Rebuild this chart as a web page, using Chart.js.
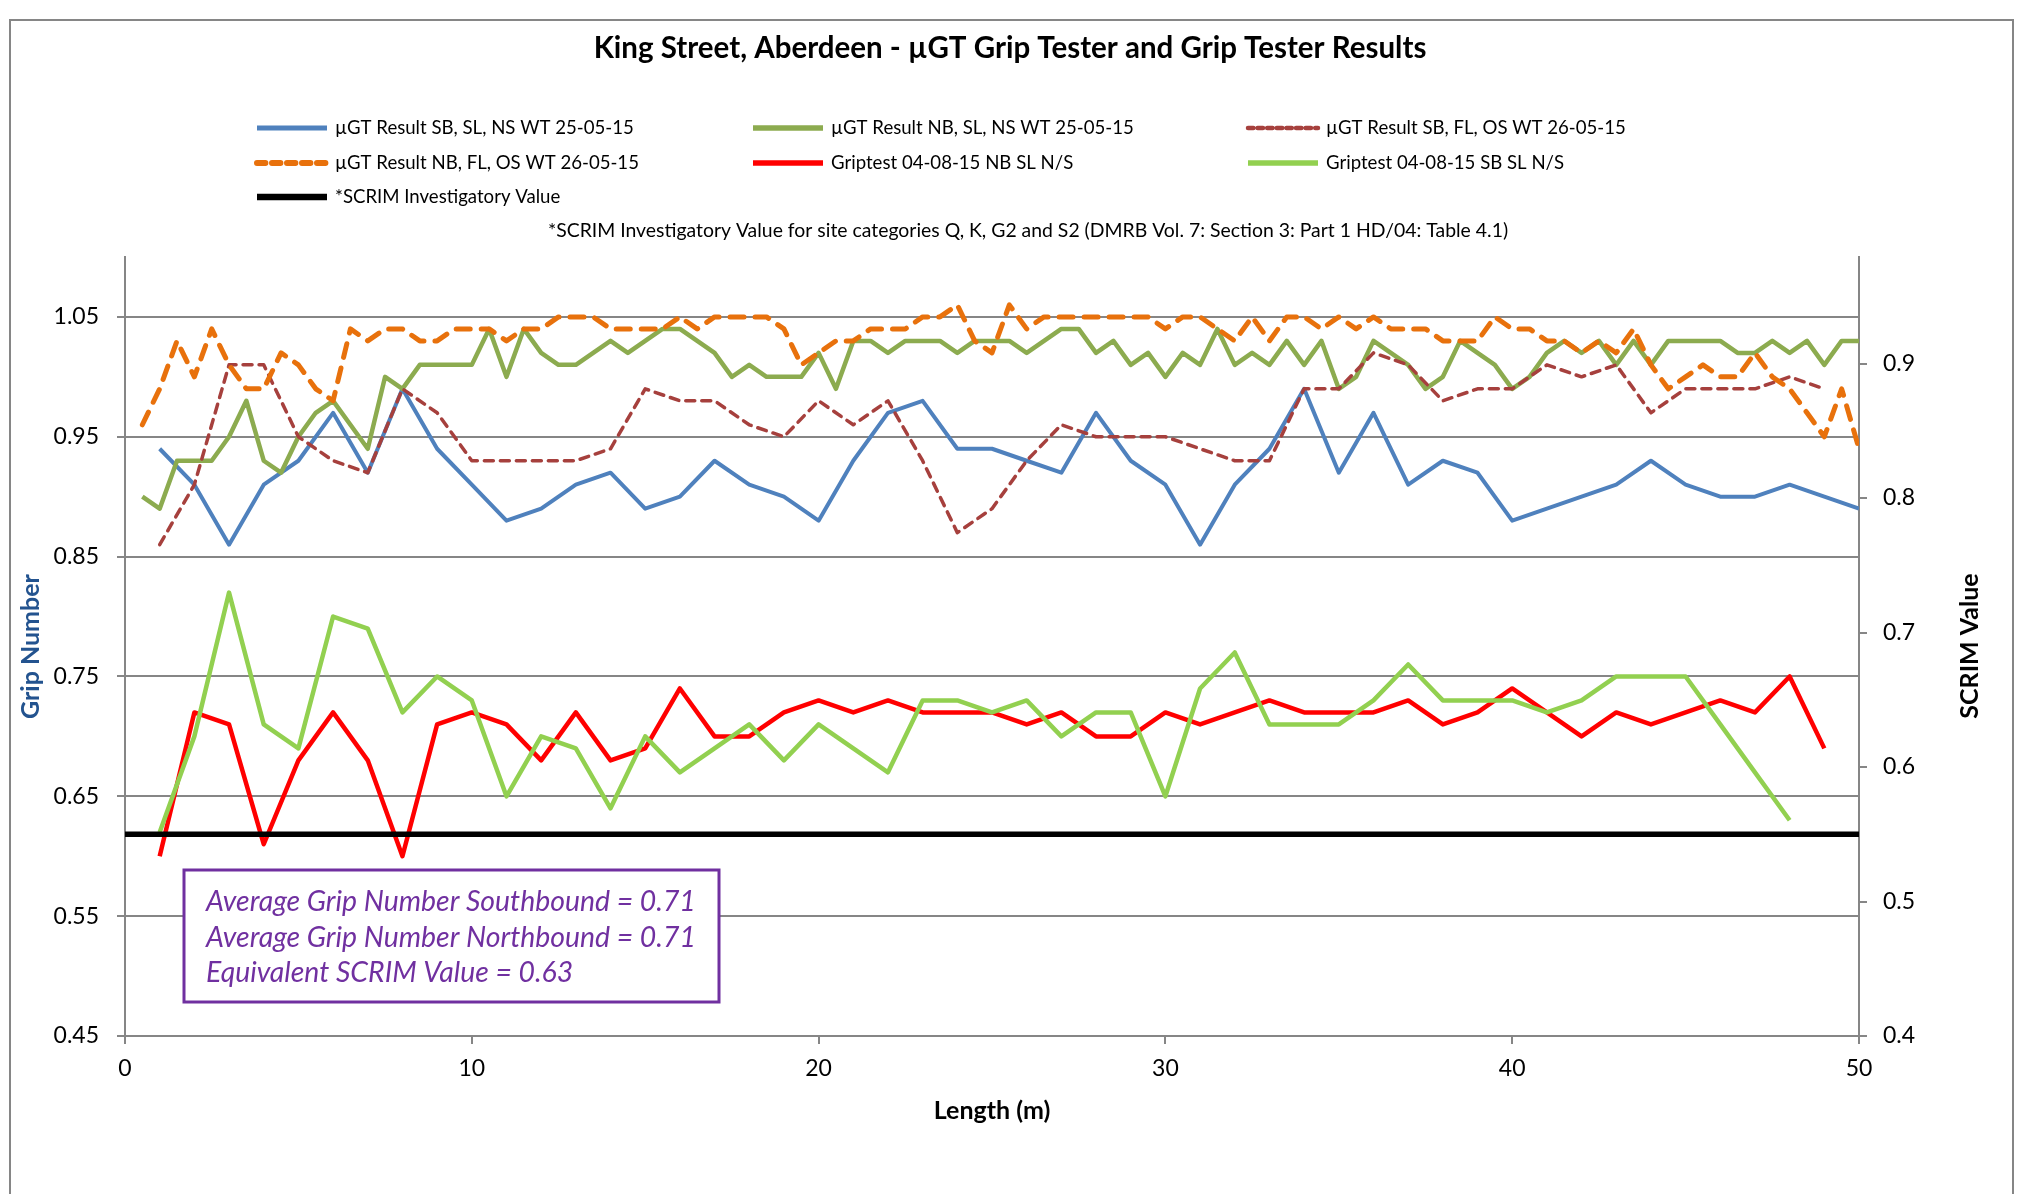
<!DOCTYPE html>
<html>
<head>
<meta charset="utf-8">
<title>King Street, Aberdeen - µGT Grip Tester and Grip Tester Results</title>
<script src="https://cdn.jsdelivr.net/npm/chart.js@4.4.1/dist/chart.umd.min.js"></script>
<style>
  html, body { margin: 0; padding: 0; background: #fff; }
  #wrap { position: relative; width: 2018px; height: 1194px; overflow: hidden; }
  #frame { position: absolute; left: 9px; top: 19px; width: 2001px; height: 1300px; border: 2px solid #868686; pointer-events: none; }
  canvas { position: absolute; left: 0; top: 0; }
</style>
</head>
<body>
<div id="wrap">
  <canvas id="gripChart" width="2018" height="1194"></canvas>
  <div id="frame"></div>
</div>
<script>
// ---------------- data ----------------
var wholeMetres = [1,2,3,4,5,6,7,8,9,10,11,12,13,14,15,16,17,18,19,20,21,22,23,24,25,
                   26,27,28,29,30,31,32,33,34,35,36,37,38,39,40,41,42,43,44,45,46,47,48,49,50];
var halfMetres = [0.5,1,1.5,2,2.5,3,3.5,4,4.5,5,5.5,6,6.5,7,7.5,8,8.5,9,9.5,10,
                  10.5,11,11.5,12,12.5,13,13.5,14,14.5,15,15.5,16,16.5,17,17.5,18,18.5,19,19.5,20,
                  20.5,21,21.5,22,22.5,23,23.5,24,24.5,25,25.5,26,26.5,27,27.5,28,28.5,29,29.5,30,
                  30.5,31,31.5,32,32.5,33,33.5,34,34.5,35,35.5,36,36.5,37,37.5,38,38.5,39,39.5,40,
                  40.5,41,41.5,42,42.5,43,43.5,44,44.5,45,45.5,46,46.5,47,47.5,48,48.5,49,49.5,50];

// µGT SB, SL, NS (1 m)
var ugtSbSl = [0.94,0.91,0.86,0.91,0.93,0.97,0.92,0.99,0.94,0.91,0.88,0.89,0.91,0.92,0.89,0.90,0.93,0.91,0.90,0.88,
               0.93,0.97,0.98,0.94,0.94,0.93,0.92,0.97,0.93,0.91,0.86,0.91,0.94,0.99,0.92,0.97,0.91,0.93,0.92,0.88,
               0.89,0.90,0.91,0.93,0.91,0.90,0.90,0.91,0.90,0.89];
// µGT NB, SL, NS (0.5 m)
var ugtNbSl = [0.90,0.89,0.93,0.93,0.93,0.95,0.98,0.93,0.92,0.95,0.97,0.98,0.96,0.94,1.00,0.99,1.01,1.01,1.01,1.01,
               1.04,1.00,1.04,1.02,1.01,1.01,1.02,1.03,1.02,1.03,1.04,1.04,1.03,1.02,1.00,1.01,1.00,1.00,1.00,1.02,
               0.99,1.03,1.03,1.02,1.03,1.03,1.03,1.02,1.03,1.03,1.03,1.02,1.03,1.04,1.04,1.02,1.03,1.01,1.02,1.00,
               1.02,1.01,1.04,1.01,1.02,1.01,1.03,1.01,1.03,0.99,1.00,1.03,1.02,1.01,0.99,1.00,1.03,1.02,1.01,0.99,
               1.00,1.02,1.03,1.02,1.03,1.01,1.03,1.01,1.03,1.03,1.03,1.03,1.02,1.02,1.03,1.02,1.03,1.01,1.03,1.03];
// µGT SB, FL, OS (1 m, to 49 m)
var ugtSbFl = [0.86,0.91,1.01,1.01,0.95,0.93,0.92,0.99,0.97,0.93,0.93,0.93,0.93,0.94,0.99,0.98,0.98,0.96,0.95,0.98,
               0.96,0.98,0.93,0.87,0.89,0.93,0.96,0.95,0.95,0.95,0.94,0.93,0.93,0.99,0.99,1.02,1.01,0.98,0.99,0.99,
               1.01,1.00,1.01,0.97,0.99,0.99,0.99,1.00,0.99];
// µGT NB, FL, OS (0.5 m)
var ugtNbFl = [0.96,0.99,1.03,1.00,1.04,1.01,0.99,0.99,1.02,1.01,0.99,0.98,1.04,1.03,1.04,1.04,1.03,1.03,1.04,1.04,
               1.04,1.03,1.04,1.04,1.05,1.05,1.05,1.04,1.04,1.04,1.04,1.05,1.04,1.05,1.05,1.05,1.05,1.04,1.01,1.02,
               1.03,1.03,1.04,1.04,1.04,1.05,1.05,1.06,1.03,1.02,1.06,1.04,1.05,1.05,1.05,1.05,1.05,1.05,1.05,1.04,
               1.05,1.05,1.04,1.03,1.05,1.03,1.05,1.05,1.04,1.05,1.04,1.05,1.04,1.04,1.04,1.03,1.03,1.03,1.05,1.04,
               1.04,1.03,1.03,1.02,1.03,1.02,1.04,1.01,0.99,1.00,1.01,1.00,1.00,1.02,1.00,0.99,0.97,0.95,0.99,0.94];
// Griptest NB (1 m, to 49 m)
var griptestNb = [0.60,0.72,0.71,0.61,0.68,0.72,0.68,0.60,0.71,0.72,0.71,0.68,0.72,0.68,0.69,0.74,0.70,0.70,0.72,0.73,
                  0.72,0.73,0.72,0.72,0.72,0.71,0.72,0.70,0.70,0.72,0.71,0.72,0.73,0.72,0.72,0.72,0.73,0.71,0.72,0.74,
                  0.72,0.70,0.72,0.71,0.72,0.73,0.72,0.75,0.69];
// Griptest SB (1 m, to 48 m)
var griptestSb = [0.62,0.70,0.82,0.71,0.69,0.80,0.79,0.72,0.75,0.73,0.65,0.70,0.69,0.64,0.70,0.67,0.69,0.71,0.68,0.71,
                  0.69,0.67,0.73,0.73,0.72,0.73,0.70,0.72,0.72,0.65,0.74,0.77,0.71,0.71,0.71,0.73,0.76,0.73,0.73,0.73,
                  0.72,0.73,0.75,0.75,0.75,0.71,0.67,0.63];
// SCRIM investigatory level (secondary axis)
var scrimX = [0, 50];
var scrimValue = [0.55, 0.55];

var gripTicks = [0.45, 0.55, 0.65, 0.75, 0.85, 0.95, 1.05];
var scrimTicks = [0.4, 0.5, 0.6, 0.7, 0.8, 0.9];
var lengthTicks = [0, 10, 20, 30, 40, 50];

var seriesNames = [
  'µGT Result SB, SL, NS WT 25-05-15',
  'µGT Result NB, SL, NS WT 25-05-15',
  'µGT Result SB, FL, OS WT 26-05-15',
  'µGT Result NB, FL, OS WT 26-05-15',
  'Griptest 04-08-15 NB SL N/S',
  'Griptest 04-08-15 SB SL N/S',
  '*SCRIM Investigatory Value'
];
var averageNotes = [
  'Average Grip Number Southbound = 0.71',
  'Average Grip Number Northbound = 0.71',
  'Equivalent SCRIM Value = 0.63'
];
var chartTitle = 'King Street, Aberdeen - µGT Grip Tester and Grip Tester Results';
var scrimNote = '*SCRIM Investigatory Value for site categories Q, K, G2 and S2 (DMRB Vol. 7: Section 3: Part 1 HD/04: Table 4.1)';

// ---------------------------------------------------------------
var FONT = 'Lato, "Open Sans", sans-serif';
var GRID = '#868686';

function toPoints(xs, ys) {
  return ys.map(function (v, i) { return { x: xs[i], y: v }; });
}

function line(label, xs, ys, color, width, dash, axis) {
  return {
    label: label,
    data: toPoints(xs, ys),
    borderColor: color,
    backgroundColor: color,
    borderWidth: width,
    borderDash: dash || [],
    borderCapStyle: dash ? 'round' : 'butt',
    borderJoinStyle: 'round',
    pointRadius: 0,
    tension: 0,
    fill: false,
    yAxisID: axis || 'y'
  };
}

var datasets = [
  line(seriesNames[0], wholeMetres, ugtSbSl, '#4F81BD', 4),
  line(seriesNames[1], halfMetres, ugtNbSl, '#8CAB4F', 4.5),
  line(seriesNames[2], wholeMetres, ugtSbFl, '#A6403D', 3.5, [9, 7]),
  line(seriesNames[3], halfMetres, ugtNbFl, '#E8710C', 5, [14, 11]),
  line(seriesNames[4], wholeMetres, griptestNb, '#FF0000', 4.5),
  line(seriesNames[5], wholeMetres, griptestSb, '#92D050', 4.5),
  line(seriesNames[6], scrimX, scrimValue, '#000000', 5.5, null, 'y2')
];
// excel paints later series on top
datasets.forEach(function (d, i) { d.order = datasets.length - i; });

// title, legend, notes and the text box
var decorations = {
  id: 'decorations',
  afterDatasetsDraw: function (chart) {
    var ctx = chart.ctx;
    ctx.save();

    // title
    ctx.fillStyle = '#000';
    ctx.textAlign = 'center';
    ctx.textBaseline = 'middle';
    ctx.font = 'bold 29.5px ' + FONT;
    ctx.fillText(chartTitle, 1010, 48);

    // legend, 3 columns
    var cols = [257, 753, 1248];
    var rows = [128, 163, 197];
    ctx.font = '18.6px ' + FONT;
    ctx.textAlign = 'left';
    datasets.forEach(function (d, i) {
      var x = cols[i % 3], y = rows[Math.floor(i / 3)];
      ctx.beginPath();
      ctx.strokeStyle = d.borderColor;
      ctx.lineWidth = d.borderWidth + 1;
      ctx.lineCap = d.borderCapStyle;
      ctx.setLineDash(d.borderDash.map(function (v) { return v * 0.6; }));
      ctx.moveTo(x, y);
      ctx.lineTo(x + 70, y);
      ctx.stroke();
      ctx.setLineDash([]);
      ctx.fillStyle = '#000';
      ctx.fillText(d.label, x + 78, y);
    });

    ctx.textAlign = 'center';
    ctx.font = '19.4px ' + FONT;
    ctx.fillText(scrimNote, 1028, 231);

    // right axis title (reads bottom to top)
    ctx.save();
    ctx.translate(1970, 646);
    ctx.rotate(-Math.PI / 2);
    ctx.font = 'bold 25px ' + FONT;
    ctx.fillText('SCRIM Value', 0, 0);
    ctx.restore();

    // averages box
    ctx.fillStyle = '#fff';
    ctx.fillRect(184, 870, 535, 132);
    ctx.strokeStyle = '#7030A0';
    ctx.lineWidth = 3;
    ctx.strokeRect(184, 870, 535, 132);
    ctx.fillStyle = '#7030A0';
    ctx.textAlign = 'left';
    ctx.font = 'italic 28.4px ' + FONT;
    averageNotes.forEach(function (t, i) {
      ctx.fillText(t, 206, 902 + i * 35.5);
    });

    ctx.restore();
  }
};

function fixedTicks(list) {
  return function (scale) {
    scale.ticks = list.map(function (v) { return { value: v }; });
  };
}

var ctxEl = document.getElementById('gripChart');
var gripChart = new Chart(ctxEl, {
  type: 'line',
  data: { datasets: datasets },
  options: {
    responsive: false,
    animation: false,
    devicePixelRatio: 1,
    layout: { padding: { top: 257, left: 0, right: 0, bottom: 0 } },
    plugins: {
      legend: { display: false },
      title: { display: false },
      tooltip: { enabled: false }
    },
    scales: {
      x: {
        type: 'linear',
        min: 0,
        max: 50,
        afterBuildTicks: fixedTicks(lengthTicks),
        afterFit: function (s) { s.height = 158; },
        grid: { drawOnChartArea: false, drawTicks: true, tickLength: 8, color: GRID, lineWidth: 2 },
        border: { color: GRID, width: 2 },
        ticks: { font: { family: FONT, size: 23 }, color: '#000', padding: 11, maxRotation: 0 },
        title: { display: true, text: 'Length (m)', font: { family: FONT, size: 25, weight: 'bold' }, color: '#000', padding: { top: 0, bottom: 68 } }
      },
      y: {
        type: 'linear',
        position: 'left',
        min: 0.45,
        max: 1.1,
        afterBuildTicks: fixedTicks(gripTicks),
        afterFit: function (s) { s.width = 125; },
        grid: { color: GRID, lineWidth: 2, drawTicks: true, tickLength: 8 },
        border: { color: GRID, width: 2 },
        ticks: {
          font: { family: FONT, size: 23 }, color: '#000', padding: 18,
          callback: function (v) { return v.toFixed(2); }
        },
        title: { display: true, text: 'Grip Number', font: { family: FONT, size: 25, weight: 'bold' }, color: '#23538F', padding: { top: 16, bottom: 0 } }
      },
      y2: {
        type: 'linear',
        position: 'right',
        min: 0.4,
        max: 0.4 + 0.65 * 1200 / 1346.7,
        afterBuildTicks: fixedTicks(scrimTicks),
        afterFit: function (s) { s.width = 159; },
        grid: { drawOnChartArea: false, drawTicks: true, tickLength: 8, color: GRID, lineWidth: 2 },
        border: { color: GRID, width: 2 },
        ticks: {
          font: { family: FONT, size: 23 }, color: '#000', padding: 16,
          callback: function (v) { return v.toFixed(1); }
        }
      }
    }
  },
  plugins: [decorations]
});
</script>
</body>
</html>
